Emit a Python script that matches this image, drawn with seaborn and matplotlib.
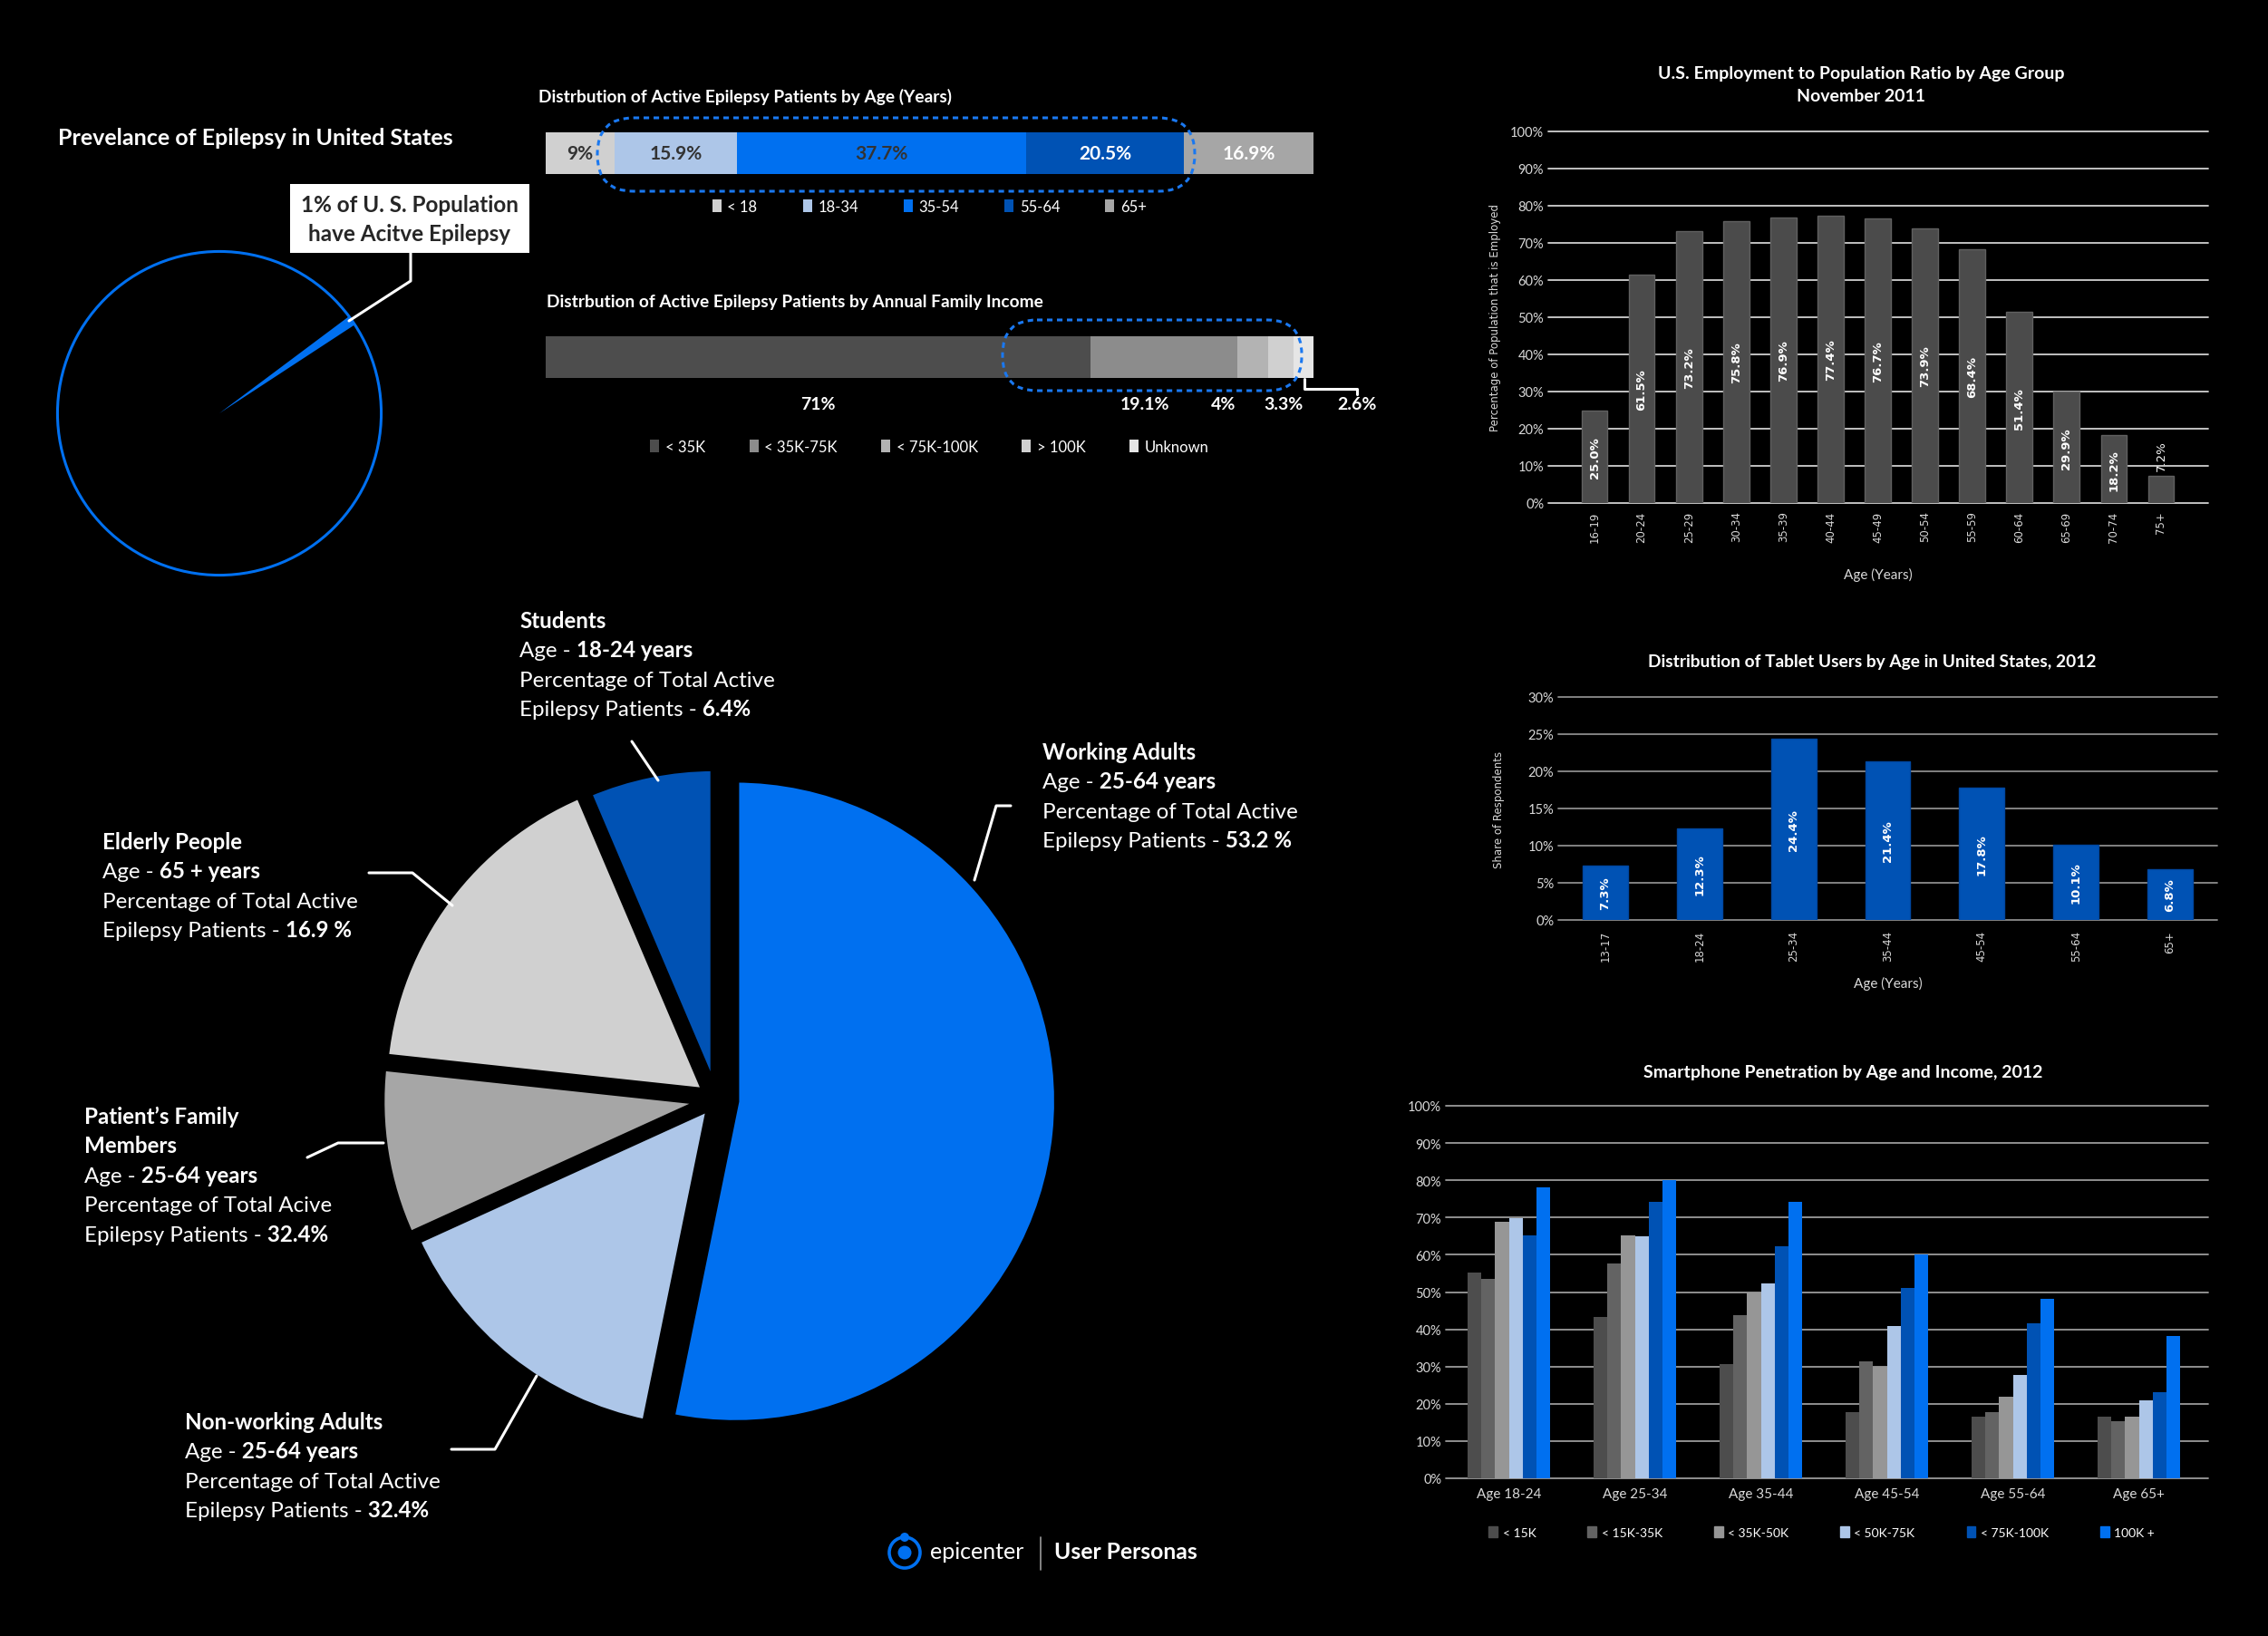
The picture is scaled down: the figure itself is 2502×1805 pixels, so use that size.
import matplotlib
matplotlib.use("Agg")
import matplotlib.pyplot as plt
import seaborn as sns
import pandas as pd
from matplotlib.patches import FancyBboxPatch, Circle, Rectangle, Patch

# ---- data -------------------------------------------------------------
prev_values = [1, 99]

age_groups = ["< 18", "18-34", "35-54", "55-64", "65+"]
age_share = [9, 15.9, 37.7, 20.5, 16.9]
age_labels = ["9%", "15.9%", "37.7%", "20.5%", "16.9%"]

income_groups = ["< 35K", "< 35K-75K", "< 75K-100K", "> 100K", "Unknown"]
income_share = [71, 19.1, 4, 3.3, 2.6]
income_labels = ["71%", "19.1%", "4%", "3.3%", "2.6%"]

persona_names = ["Working Adults", "Non-working Adults", "Patient's Family Members",
                 "Elderly People", "Students"]
persona_share = [53.2, 15.0, 8.5, 16.9, 6.4]

emp_ages = ["16-19", "20-24", "25-29", "30-34", "35-39", "40-44", "45-49",
            "50-54", "55-59", "60-64", "65-69", "70-74", "75+"]
emp_ratio = [25.0, 61.5, 73.2, 75.8, 76.9, 77.4, 76.7, 73.9, 68.4, 51.4, 29.9, 18.2, 7.2]

tab_ages = ["13-17", "18-24", "25-34", "35-44", "45-54", "55-64", "65+"]
tab_share = [7.3, 12.3, 24.4, 21.4, 17.8, 10.1, 6.8]

sp_ages = ["Age 18-24", "Age 25-34", "Age 35-44", "Age 45-54", "Age 55-64", "Age 65+"]
sp_income = ["< 15K", "< 15K-35K", "< 35K-50K", "< 50K-75K", "< 75K-100K", "100K +"]
sp_lt15 = [55.2, 43.2, 30.6, 17.7, 16.6, 16.6]
sp_15_35 = [53.6, 57.6, 43.8, 31.5, 17.7, 15.4]
sp_35_50 = [68.8, 65.2, 50.0, 30.0, 21.9, 16.6]
sp_50_75 = [69.9, 65.0, 52.2, 40.9, 27.7, 20.9]
sp_75_100 = [65.2, 74.2, 62.3, 51.0, 41.7, 23.1]
sp_100p = [78.0, 80.0, 74.2, 60.0, 48.2, 38.1]

# ---- style ------------------------------------------------------------
BLUE = "#0070f0"
DBLUE = "#0052b4"
LBLUE = "#adc6e8"
sns.set_theme(style="dark", rc={"axes.facecolor": "black", "figure.facecolor": "black",
                                "text.color": "white", "axes.labelcolor": "white"})
plt.rcParams["font.family"] = ["Lato", "DejaVu Sans"]

W, H = 2502, 1806
fig = plt.figure(figsize=(W / 100, H / 100), dpi=100, facecolor="black")
renderer = fig.canvas.get_renderer()


def px_axes(x0, y0, x1, y1):
    ax = fig.add_axes([x0 / W, 1 - y1 / H, (x1 - x0) / W, (y1 - y0) / H])
    ax.set_facecolor("none")
    return ax


def style_bar_axes(ax, grid_color):
    ax.yaxis.grid(True, color=grid_color, lw=1.3)
    ax.xaxis.grid(False)
    ax.set_axisbelow(True)
    for s in ax.spines.values():
        s.set_visible(False)
    ax.tick_params(length=0, colors="#d9d9d9", labelsize=10.5)
    for ln in ax.get_ygridlines():
        ln.set_clip_on(False)
    ax.set_xlabel("")
    ax.set_ylabel("")


# ---- prevalence pie ---------------------------------------------------
axp = px_axes(42, 257, 442, 657)
axp.pie(prev_values, colors=[BLUE, "none"], startangle=33.2, counterclock=True,
        wedgeprops=dict(linewidth=0, edgecolor="none"))
axp.add_patch(Circle((0, 0), 1, fill=False, ec=BLUE, lw=2.2))
axp.set_xlim(-1.12, 1.12)
axp.set_ylim(-1.12, 1.12)

# ---- big persona pie --------------------------------------------------
axb = px_axes(790 - 427, 1214 - 427, 790 + 427, 1214 + 427)
axb.pie(persona_share, colors=[BLUE, LBLUE, "#a6a6a6", "#d0d0d0", DBLUE],
        startangle=90, counterclock=False, explode=[0.06, 0.03, 0.04, 0.04, 0.03],
        wedgeprops=dict(edgecolor="black", linewidth=6))
axb.set_xlim(-1.2, 1.2)
axb.set_ylim(-1.2, 1.2)

# ---- age stacked bar --------------------------------------------------
axa = px_axes(602, 147, 1449, 193)
age_colors = ["#d0d0d0", LBLUE, BLUE, DBLUE, "#a6a6a6"]
age_text = ["#333333", "#333333", "#333333", "white", "white"]
left = 0
for g, v, c, lab, tc in zip(age_groups, age_share, age_colors, age_labels, age_text):
    axa.barh(0, v, left=left, height=1, color=c, label=g, linewidth=0)
    axa.text(left + v / 2, 0, lab, ha="center", va="center", color=tc,
             fontsize=15, fontweight="bold")
    left += v
axa.set_xlim(0, 100)
axa.set_ylim(-0.5, 0.5)
axa.axis("off")
axa.legend(ncol=5, loc="center", bbox_to_anchor=(0.5, -0.78), frameon=False,
           labelcolor="white", fontsize=12, handlelength=0.6, handleheight=0.9,
           handletextpad=0.4, columnspacing=3.0)

# ---- income stacked bar -----------------------------------------------
axi = px_axes(602, 372, 1449, 418)
inc_colors = ["#4d4d4d", "#8c8c8c", "#b3b3b3", "#d0d0d0", "#e6e6e6"]
label_shift = [0, -2.5, -3.8, 0.3, 7.0]
left = 0
for g, v, c, lab, sh in zip(income_groups, income_share, inc_colors, income_labels, label_shift):
    axi.barh(0, v, left=left, height=1, color=c, label=g, linewidth=0)
    axi.text(left + v / 2 + sh, -1.13, lab, ha="center", va="center", color="white",
             fontsize=14, fontweight="bold", clip_on=False)
    left += v
axi.set_xlim(0, 100)
axi.set_ylim(-0.5, 0.5)
axi.axis("off")
axi.legend(ncol=5, loc="center", bbox_to_anchor=(0.5, -1.65), frameon=False,
           labelcolor="white", fontsize=12, handlelength=0.6, handleheight=0.9,
           handletextpad=0.4, columnspacing=2.9)

# ---- employment chart -------------------------------------------------
axe = px_axes(1708, 146, 2436, 556)
sns.barplot(x=emp_ages, y=emp_ratio, color="#4b4b4b", saturation=1, width=0.55,
            edgecolor="#606060", linewidth=1, ax=axe)
axe.set_xlim(-0.98, 13.0)
axe.set_ylim(0, 100)
axe.set_yticks(range(0, 101, 10))
axe.set_yticklabels([f"{t}%" for t in range(0, 101, 10)])
style_bar_axes(axe, "#d0d0d0")
axe.tick_params(axis="x", labelrotation=90, labelsize=8.5, pad=6)
for t in axe.get_xticklabels():
    t.set_family("DejaVu Sans")
for i, v in enumerate(emp_ratio):
    if v > 12:
        axe.text(i, v / 2, f"{v:.1f}%", rotation=90, ha="center", va="center",
                 color="white", fontsize=9.5, fontweight="bold", family="DejaVu Sans")
    else:
        axe.text(i, v + 1.5, f"{v:.1f}%", rotation=90, ha="center", va="bottom",
                 color="white", fontsize=9.5, family="DejaVu Sans")

# ---- tablet chart -----------------------------------------------------
axt = px_axes(1719, 770, 2446, 1016)
sns.barplot(x=tab_ages, y=tab_share, color=DBLUE, saturation=1, width=0.48,
            edgecolor="#0047a0", linewidth=1, ax=axt)
axt.set_xlim(-0.5, 6.5)
axt.set_ylim(0, 30)
axt.set_yticks(range(0, 31, 5))
axt.set_yticklabels([f"{t}%" for t in range(0, 31, 5)])
style_bar_axes(axt, "#8c8c8c")
axt.tick_params(axis="x", labelrotation=90, labelsize=8.5, pad=8)
for t in axt.get_xticklabels():
    t.set_family("DejaVu Sans")
for i, v in enumerate(tab_share):
    axt.text(i, v / 2, f"{v:.1f}%", rotation=90, ha="center", va="center",
             color="white", fontsize=9.5, fontweight="bold", family="DejaVu Sans")

# ---- smartphone chart -------------------------------------------------
sp_df = pd.DataFrame({
    "age": sp_ages * 6,
    "income": [inc for inc in sp_income for _ in sp_ages],
    "value": sp_lt15 + sp_15_35 + sp_35_50 + sp_50_75 + sp_75_100 + sp_100p,
})
sp_colors = ["#4d4d4d", "#636363", "#969696", LBLUE, DBLUE, BLUE]
axs = px_axes(1595, 1221, 2436, 1632)
sns.barplot(data=sp_df, x="age", y="value", hue="income", hue_order=sp_income,
            palette=sp_colors, saturation=1, width=0.65, gap=0, legend=False,
            linewidth=0, ax=axs)
axs.set_xlim(-0.5, 5.55)
axs.set_ylim(0, 100)
axs.set_yticks(range(0, 101, 10))
axs.set_yticklabels([f"{t}%" for t in range(0, 101, 10)])
style_bar_axes(axs, "#9a9a9a")
axs.tick_params(axis="x", labelsize=11, pad=7)
axs.legend(handles=[Patch(color=c, label=l) for c, l in zip(sp_colors, sp_income)],
           ncol=6, loc="center", bbox_to_anchor=(0.493, -0.144), frameon=False,
           labelcolor="white", fontsize=10, handlelength=0.7, handleheight=1.0,
           handletextpad=0.4, columnspacing=4.1)

# ---- overlay: titles, callouts, leaders -------------------------------
ov = fig.add_axes([0, 0, 1, 1])
ov.set_xlim(0, W)
ov.set_ylim(H, 0)
ov.axis("off")
ov.patch.set_alpha(0)

ov.text(64, 152, "Prevelance of Epilepsy in United States", fontsize=18,
        fontweight="bold", color="white", va="center")
ov.add_patch(Rectangle((320, 204), 264, 76, fc="white", ec="none"))
ov.text(452, 226, "1% of U. S. Population", ha="center", va="center", fontsize=17.5,
        fontweight="bold", color="#262626")
ov.text(452, 258, "have Acitve Epilepsy", ha="center", va="center", fontsize=17.5,
        fontweight="bold", color="#262626")
ov.plot([453, 453, 385], [280, 311, 355], color="white", lw=2.2)

ov.text(594, 107, "Distrbution of Active Epilepsy Patients by Age (Years)", fontsize=13.8,
        fontweight="bold", color="white", va="center")
ov.text(603, 334, "Distrbution of Active Epilepsy Patients by Annual Family Income",
        fontsize=13.8, fontweight="bold", color="white", va="center")
for x0, y0, x1, y1, r in [(659, 131, 1318, 212, 40), (1106, 354, 1436, 432, 38)]:
    ov.add_patch(FancyBboxPatch((x0, y0), x1 - x0, y1 - y0,
                                boxstyle=f"round,pad=0,rounding_size={r}", fill=False,
                                ec="#1a78f0", lw=2.2, linestyle=(0, (2, 1.6))))
ov.plot([1439, 1439, 1497, 1497], [419, 430, 430, 436], color="white", lw=2.2)

ov.text(2053, 81, "U.S. Employment to Population Ratio by Age Group", ha="center",
        va="center", fontsize=14, fontweight="bold", color="white")
ov.text(2053, 107, "November 2011", ha="center", va="center", fontsize=14,
        fontweight="bold", color="white")
ov.text(1650, 351, "Percentage of Population that is Employed", rotation=90, ha="center",
        va="center", fontsize=8.5, family="DejaVu Sans", color="#d9d9d9")
ov.text(2072, 634, "Age (Years)", ha="center", va="center", fontsize=11, color="#d9d9d9")

ov.text(2065, 731, "Distribution of Tablet Users by Age in United States, 2012", ha="center",
        va="center", fontsize=13.8, fontweight="bold", color="white")
ov.text(1654, 893, "Share of Respondents", rotation=90, ha="center", va="center",
        fontsize=8.5, family="DejaVu Sans", color="#d9d9d9")
ov.text(2083, 1085, "Age (Years)", ha="center", va="center", fontsize=11, color="#d9d9d9")

ov.text(2033, 1184, "Smartphone Penetration by Age and Income, 2012", ha="center",
        va="center", fontsize=14, fontweight="bold", color="white")


def rich_line(x, y, parts, size=17.4):
    for s, bold in parts:
        t = ov.text(x, y, s, fontsize=size, fontweight="bold" if bold else "normal",
                    color="white", va="baseline", ha="left")
        x += t.get_window_extent(renderer).width


def persona_block(x, y, lines, gap=32.5):
    for k, parts in enumerate(lines):
        rich_line(x, y + k * gap + 8, parts)


persona_block(573, 685, [[("Students", True)], [("Age -", False), (" 18-24 years", True)],
                         [("Percentage of Total Active", False)],
                         [("Epilepsy Patients -", False), (" 6.4%", True)]])
persona_block(1150, 830, [[("Working Adults", True)], [("Age -", False), (" 25-64 years", True)],
                          [("Percentage of Total Active", False)],
                          [("Epilepsy Patients -", False), (" 53.2 %", True)]])
persona_block(113, 929, [[("Elderly People", True)], [("Age -", False), (" 65 + years", True)],
                         [("Percentage of Total Active", False)],
                         [("Epilepsy Patients -", False), (" 16.9 %", True)]])
persona_block(93, 1232, [[("Patient\u2019s Family", True)], [("Members", True)],
                         [("Age -", False), (" 25-64 years", True)],
                         [("Percentage of Total Acive", False)],
                         [("Epilepsy Patients -", False), (" 32.4%", True)]])
persona_block(204, 1569, [[("Non-working Adults", True)], [("Age -", False), (" 25-64 years", True)],
                          [("Percentage of Total Active", False)],
                          [("Epilepsy Patients -", False), (" 32.4%", True)]])

for xs, ys in [([697, 726], [819, 862]),
               ([1115, 1099, 1075], [890, 890, 972]),
               ([407, 455, 499], [964, 964, 1000]),
               ([339, 373, 423], [1278, 1262, 1262]),
               ([498, 546, 592], [1600, 1600, 1519])]:
    ov.plot(xs, ys, color="white", lw=2.2)

# ---- logo ---------------------------------------------------------------
ov.add_patch(Circle((998, 1714), 17, fill=False, ec=BLUE, lw=2.6))
ov.add_patch(Circle((998, 1697), 5, fc=BLUE, ec="none"))
ov.add_patch(Circle((998, 1714), 7.5, fc=BLUE, ec="none"))
ov.text(1026, 1713, "epicenter", fontsize=18, color="white", va="center")
ov.plot([1148, 1148], [1697, 1733], color="#9a9a9a", lw=1.2)
ov.text(1163, 1713, "User Personas", fontsize=17.8, fontweight="bold", color="white", va="center")

fig.savefig("out.png", dpi=100, facecolor="black")
